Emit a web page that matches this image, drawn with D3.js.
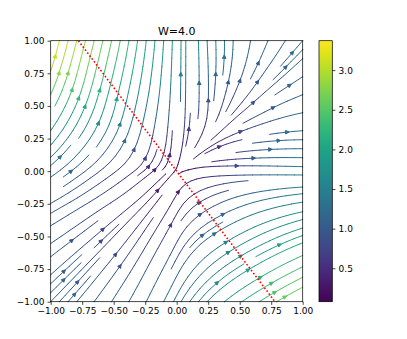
<!DOCTYPE html>
<html>
<head>
<meta charset="utf-8">
<script src="https://cdn.jsdelivr.net/npm/d3@7"></script>
<style>
  body { margin: 0; background: #fff; }
  svg { display: block; }
  text { font-family: "DejaVu Sans", sans-serif; fill: #000; }
</style>
</head>
<body>
<div id="chart"></div>
<script>
// ---- data ----
const title = 'W=4.0';

// field sample grid (x across, y up), vectors estimated from the streamlines
const gridX = [-1, -0.75, -0.5, -0.25, 0, 0.25, 0.5, 0.75, 1];
const gridY = [-1, -0.75, -0.5, -0.25, 0, 0.25, 0.5, 0.75, 1];

// rows go from y=-1 (first) to y=1 (last)
const U = [
  [0.81, 0.74, 0.63, 0.54, 0.63, 1.17, 1.70, 2.17, 2.52],
  [0.86, 0.64, 0.56, 0.45, 0.50, 1.06, 1.59, 1.99, 2.22],
  [0.93, 0.70, 0.46, 0.36, 0.36, 0.97, 1.44, 1.68, 1.94],
  [1.02, 0.78, 0.53, 0.27, 0.21, 0.83, 1.11, 1.42, 1.73],
  [1.05, 0.83, 0.60, 0.35, 0.05, 0.51, 0.88, 1.23, 1.55],
  [1.09, 0.88, 0.66, 0.27, 0.01, 0.28, 0.73, 1.09, 1.42],
  [1.15, 0.82, 0.47, 0.31, 0.02, 0.03, 0.48, 0.89, 1.28],
  [0.99, 0.65, 0.55, 0.28, 0.02, -0.03, 0.31, 0.66, 1.04],
  [0.82, 0.78, 0.54, 0.27, 0.03, -0.09, 0.05, 0.57, 0.84]
];
const V = [
  [0.81, 0.88, 0.96, 1.07, 1.19, 1.17, 1.15, 1.25, 1.34],
  [0.72, 0.64, 0.72, 0.82, 0.94, 0.92, 0.96, 1.06, 1.04],
  [0.58, 0.53, 0.46, 0.55, 0.68, 0.66, 0.76, 0.72, 0.67],
  [0.54, 0.44, 0.33, 0.27, 0.39, 0.44, 0.38, 0.32, 0.27],
  [0.76, 0.60, 0.43, 0.25, 0.06, -0.02, -0.03, -0.04, -0.05],
  [1.30, 1.21, 1.13, 1.08, 0.64, 0.31, 0.18, 0.10, 0.02],
  [1.99, 1.96, 1.86, 1.45, 1.11, 0.83, 0.53, 0.47, 0.32],
  [2.73, 2.58, 2.20, 1.84, 1.54, 1.28, 1.00, 0.74, 0.73],
  [3.27, 2.90, 2.54, 2.23, 1.95, 1.70, 1.45, 1.17, 0.93]
];

const axisTicks = [-1, -0.75, -0.5, -0.25, 0, 0.25, 0.5, 0.75, 1];
const cbarTicks = [0.5, 1.0, 1.5, 2.0, 2.5, 3.0];

// red dotted line end points
const lineX = [-0.78, 0.78];
const lineY = [1, -1];

// ---- layout ----
const W = 407, H = 339;
const ax = { left: 50.7, top: 40.7, right: 302.7, bottom: 301.7 };
const cb = { left: 319, right: 332.3 };
const s = 0.9; // points -> px

const x = d3.scaleLinear().domain([-1, 1]).range([ax.left, ax.right]);
const y = d3.scaleLinear().domain([-1, 1]).range([ax.bottom, ax.top]);

const svg = d3.select('#chart').append('svg')
  .attr('width', W).attr('height', H);

// ---- streamlines (same approach as matplotlib streamplot, density 1) ----
const NX = gridX.length, NY = gridY.length;
const dxg = gridX[1] - gridX[0], dyg = gridY[1] - gridY[0];
const speed = U.map((r, j) => r.map((u, i) => Math.hypot(u, V[j][i])));
const ug = U.map(r => r.map(u => u / dxg));
const vg = V.map(r => r.map(v => v / dyg));
const spAx = ug.map((r, j) => r.map((u, i) => Math.hypot(u / (NX - 1), vg[j][i] / (NY - 1))));

const spMin = d3.min(speed.flat()), spMax = d3.max(speed.flat());
const color = d3.scaleSequential(d3.interpolateViridis).domain([spMin, spMax]);

function interp(a, xi, yi) {
  const ix = Math.trunc(xi), iy = Math.trunc(yi);
  const xn = ix === NX - 1 ? ix : ix + 1;
  const yn = iy === NY - 1 ? iy : iy + 1;
  const xt = xi - ix, yt = yi - iy;
  const a0 = a[iy][ix] * (1 - xt) + a[iy][xn] * xt;
  const a1 = a[yn][ix] * (1 - xt) + a[yn][xn] * xt;
  return a0 * (1 - yt) + a1 * yt;
}
const within = (xi, yi) => xi >= 0 && xi <= NX - 1 && yi >= 0 && yi <= NY - 1;

function pyRound(v) {
  const f = Math.floor(v), d = v - f;
  if (d > 0.5) return f + 1;
  if (d < 0.5) return f;
  return f % 2 === 0 ? f : f + 1;
}

const OOB = { n: 'oob' }, TERM = { n: 'term' }, BAD = { n: 'bad' };
const MN = 30;
const mask = d3.range(MN).map(() => new Array(MN).fill(0));
let traj = [], cur = null;
const g2m = (xg, yg) => [pyRound(xg * (MN - 1) / (NX - 1)), pyRound(yg * (MN - 1) / (NY - 1))];

function markCell(xm, ym) {
  if (cur && cur[0] === xm && cur[1] === ym) return;
  if (mask[ym][xm] !== 0) throw BAD;
  traj.push([ym, xm]);
  mask[ym][xm] = 1;
  cur = [xm, ym];
}

function fwd(xi, yi) {
  if (!within(xi, yi)) throw OOB;
  const ds = interp(spAx, xi, yi);
  if (ds === 0) throw TERM;
  return [interp(ug, xi, yi) / ds, interp(vg, xi, yi) / ds];
}
function bwd(xi, yi) {
  const d = fwd(xi, yi);
  return [-d[0], -d[1]];
}

function eulerStep(pts, f) {
  const [xi, yi] = pts[pts.length - 1];
  const [cx, cy] = f(xi, yi);
  const dsx = cx === 0 ? Infinity : cx < 0 ? xi / -cx : (NX - 1 - xi) / cx;
  const dsy = cy === 0 ? Infinity : cy < 0 ? yi / -cy : (NY - 1 - yi) / cy;
  const ds = Math.min(dsx, dsy);
  pts.push([xi + cx * ds, yi + cy * ds]);
  return ds;
}

function rk12(x0, y0, f) {
  const maxerror = 0.003, maxds = Math.min(1 / MN, 0.1), maxlength = 4.0;
  let ds = maxds, stotal = 0, xi = x0, yi = y0;
  const pts = [];
  while (true) {
    let k1, k2;
    try {
      if (within(xi, yi)) pts.push([xi, yi]); else throw OOB;
      k1 = f(xi, yi);
      k2 = f(xi + ds * k1[0], yi + ds * k1[1]);
    } catch (e) {
      if (e === OOB && pts.length) stotal += eulerStep(pts, f);
      break;
    }
    const dx1 = ds * k1[0], dy1 = ds * k1[1];
    const dx2 = ds * 0.5 * (k1[0] + k2[0]), dy2 = ds * 0.5 * (k1[1] + k2[1]);
    const error = Math.hypot((dx2 - dx1) / (NX - 1), (dy2 - dy1) / (NY - 1));
    if (error < maxerror) {
      xi += dx2;
      yi += dy2;
      try {
        if (!within(xi, yi)) throw BAD;
        const m = g2m(xi, yi);
        markCell(m[0], m[1]);
      } catch (e) {
        break;
      }
      if (stotal + ds > maxlength) break;
      stotal += ds;
    }
    ds = error === 0 ? maxds : Math.min(maxds, 0.85 * ds * Math.sqrt(maxerror / error));
  }
  return [stotal, pts];
}

function integrate(x0, y0) {
  traj = [];
  try {
    const m = g2m(x0, y0);
    markCell(m[0], m[1]);
  } catch (e) {
    return null;
  }
  let stotal = 0;
  const back = rk12(x0, y0, bwd);
  stotal += back[0];
  let line = back[1].reverse();
  cur = g2m(x0, y0);
  const forw = rk12(x0, y0, fwd);
  stotal += forw[0];
  line = line.concat(forw[1].slice(1));
  if (stotal > 0.1) return line;
  traj.forEach(([ym, xm]) => { mask[ym][xm] = 0; });
  return null;
}

function* spiral(nx, ny) {
  let xfirst = 0, yfirst = 1, xlast = nx - 1, ylast = ny - 1;
  let px = 0, py = 0, dir = 'right';
  for (let i = 0; i < nx * ny; i++) {
    yield [px, py];
    if (dir === 'right') {
      px += 1;
      if (px >= xlast) { xlast -= 1; dir = 'up'; }
    } else if (dir === 'up') {
      py += 1;
      if (py >= ylast) { ylast -= 1; dir = 'left'; }
    } else if (dir === 'left') {
      px -= 1;
      if (px <= xfirst) { xfirst += 1; dir = 'down'; }
    } else {
      py -= 1;
      if (py <= yfirst) { yfirst += 1; dir = 'right'; }
    }
  }
}

const trajectories = [];
for (const [xm, ym] of spiral(MN, MN)) {
  if (mask[ym][xm] === 0) {
    const t = integrate(xm * (NX - 1) / (MN - 1), ym * (NY - 1) / (MN - 1));
    if (t) trajectories.push(t);
  }
}

const segments = [], arrows = [];
trajectories.forEach(t => {
  const tx = t.map(p => gridX[0] + p[0] * dxg);
  const ty = t.map(p => gridY[0] + p[1] * dyg);
  const cv = t.map(p => interp(speed, p[0], p[1]));
  for (let i = 0; i < t.length - 1; i++) {
    segments.push({ x1: tx[i], y1: ty[i], x2: tx[i + 1], y2: ty[i + 1], v: cv[i] });
  }
  let acc = 0;
  const cum = [];
  for (let i = 0; i < t.length - 1; i++) {
    acc += Math.hypot(tx[i + 1] - tx[i], ty[i + 1] - ty[i]);
    cum.push(acc);
  }
  const n = d3.bisectLeft(cum, acc / 2);
  const n2 = Math.min(n + 1, t.length - 1);
  arrows.push({
    tx: tx[n], ty: ty[n],
    hx: (tx[n] + tx[n2]) / 2, hy: (ty[n] + ty[n2]) / 2,
    v: cv[Math.min(n, cv.length - 2)]
  });
});

const lw = 1.0;
const plot = svg.append('g');
plot.append('g')
  .selectAll('line')
  .data(segments)
  .join('line')
  .attr('x1', d => x(d.x1)).attr('y1', d => y(d.y1))
  .attr('x2', d => x(d.x2)).attr('y2', d => y(d.y2))
  .attr('stroke', d => color(d.v))
  .attr('stroke-width', lw)
  .attr('stroke-linecap', 'round');

// arrow heads like '-|>' with mutation scale 10pt
const hl = 0.4 * 10 * s, hw = 0.2 * 10 * s;
plot.append('g')
  .selectAll('path')
  .data(arrows)
  .join('path')
  .attr('d', d => {
    const x0 = x(d.tx), y0 = y(d.ty), x1 = x(d.hx), y1 = y(d.hy);
    let bx = x0 - x1, by = y0 - y1;
    const L = Math.hypot(bx, by) || 1;
    bx /= L; by /= L;
    const pad = 0.5 * lw / (hw / Math.hypot(hl, hw));
    const tipX = x1 + pad * bx, tipY = y1 + pad * by;
    const px = -by, py = bx;
    const a = [tipX + hl * bx + hw * px, tipY + hl * by + hw * py];
    const b = [tipX + hl * bx - hw * px, tipY + hl * by - hw * py];
    return `M${a[0]},${a[1]}L${tipX},${tipY}L${b[0]},${b[1]}Z`;
  })
  .attr('fill', d => color(d.v))
  .attr('stroke', d => color(d.v))
  .attr('stroke-width', lw)
  .attr('stroke-linejoin', 'miter');

// red dotted line
const rlw = 1.6;
svg.append('path')
  .attr('d', d3.line().x(d => x(d[0])).y(d => y(d[1]))(lineX.map((v, i) => [v, lineY[i]])))
  .attr('fill', 'none')
  .attr('stroke', '#ff0000')
  .attr('stroke-width', rlw)
  .attr('stroke-dasharray', `${1 * rlw},${1.3 * rlw}`);

// ---- axes ----
const fmt = d3.format('.2f');
const tickLen = 3.5 * s, tickPad = 3.5 * s;

const xAxis = svg.append('g')
  .attr('transform', `translate(0,${ax.bottom})`)
  .call(d3.axisBottom(x).tickValues(axisTicks).tickFormat(fmt)
    .tickSizeInner(tickLen).tickSizeOuter(0).tickPadding(tickPad));
const yAxis = svg.append('g')
  .attr('transform', `translate(${ax.left},0)`)
  .call(d3.axisLeft(y).tickValues(axisTicks).tickFormat(fmt)
    .tickSizeInner(tickLen).tickSizeOuter(0).tickPadding(tickPad));
[xAxis, yAxis].forEach(g => {
  g.select('.domain').remove();
  g.selectAll('line').attr('stroke', '#000').attr('stroke-width', 0.8 * s);
  g.selectAll('text').attr('font-size', '9px').attr('font-family', '"DejaVu Sans", sans-serif');
});

svg.append('rect')
  .attr('x', ax.left).attr('y', ax.top)
  .attr('width', ax.right - ax.left).attr('height', ax.bottom - ax.top)
  .attr('fill', 'none').attr('stroke', '#000').attr('stroke-width', 0.8 * s);

svg.append('text')
  .attr('x', (ax.left + ax.right) / 2).attr('y', ax.top - 6 * s)
  .attr('text-anchor', 'middle').attr('font-size', '11px')
  .text(title);

// ---- colorbar ----
const cy = d3.scaleLinear().domain([spMin, spMax]).range([ax.bottom, ax.top]);
const grad = svg.append('defs').append('linearGradient')
  .attr('id', 'cbar').attr('x1', 0).attr('y1', 1).attr('x2', 0).attr('y2', 0);
d3.range(0, 1.0001, 0.05).forEach(t => {
  grad.append('stop').attr('offset', t).attr('stop-color', d3.interpolateViridis(t));
});
svg.append('rect')
  .attr('x', cb.left).attr('y', ax.top)
  .attr('width', cb.right - cb.left).attr('height', ax.bottom - ax.top)
  .attr('fill', 'url(#cbar)');
const cAxis = svg.append('g')
  .attr('transform', `translate(${cb.right},0)`)
  .call(d3.axisRight(cy).tickValues(cbarTicks).tickFormat(d3.format('.1f'))
    .tickSizeInner(tickLen).tickSizeOuter(0).tickPadding(tickPad));
cAxis.select('.domain').remove();
cAxis.selectAll('line').attr('stroke', '#000').attr('stroke-width', 0.8 * s);
cAxis.selectAll('text').attr('font-size', '9px').attr('font-family', '"DejaVu Sans", sans-serif');
svg.append('rect')
  .attr('x', cb.left).attr('y', ax.top)
  .attr('width', cb.right - cb.left).attr('height', ax.bottom - ax.top)
  .attr('fill', 'none').attr('stroke', '#000').attr('stroke-width', 0.8 * s);
</script>
</body>
</html>
